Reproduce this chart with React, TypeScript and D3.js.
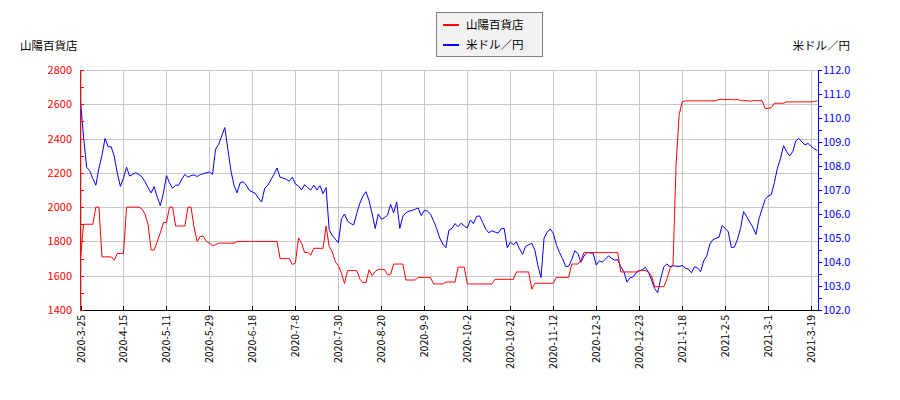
import React, { useEffect, useRef } from 'react';
import * as d3 from 'd3';

// x tick labels, one every 14 trading days
const tickLabels = [
  '2020-3-25', '2020-4-15', '2020-5-11', '2020-5-29', '2020-6-18', '2020-7-8',
  '2020-7-30', '2020-8-20', '2020-9-9', '2020-10-2', '2020-10-22', '2020-11-12',
  '2020-12-3', '2020-12-23', '2021-1-18', '2021-2-5', '2021-3-1', '2021-3-19',
];
const tickStep = 14;

// 山陽百貨店 closing price (yen), one value per trading day
const stockPrice = [
  1700, 1900, 1900, 1900, 1900, 2000, 2000, 1710, 1710, 1710,
  1710, 1690, 1730, 1730, 1730, 2000, 2000, 2000, 2000, 2000,
  1990, 1960, 1900, 1750, 1750, 1800, 1850, 1910, 1910, 2000,
  2000, 1890, 1890, 1890, 1890, 2000, 2000, 1880, 1800, 1830,
  1830, 1800, 1790, 1775, 1780, 1790, 1790, 1790, 1790, 1790,
  1790, 1800, 1800, 1800, 1800, 1800, 1800, 1800, 1800, 1800,
  1800, 1800, 1800, 1800, 1800, 1700, 1700, 1700, 1700, 1665,
  1675, 1820, 1790, 1735, 1735, 1720, 1760, 1760, 1760, 1760,
  1890, 1770, 1740, 1680, 1660, 1615, 1555, 1630, 1630, 1630,
  1630, 1580, 1560, 1560, 1635, 1600, 1625, 1637, 1637, 1637,
  1606, 1606, 1668, 1668, 1668, 1668, 1575, 1575, 1575, 1575,
  1590, 1590, 1590, 1590, 1590, 1552, 1552, 1552, 1552, 1563,
  1563, 1563, 1563, 1650, 1650, 1650, 1552, 1552, 1552, 1552,
  1552, 1552, 1552, 1552, 1552, 1579, 1579, 1579, 1579, 1579,
  1579, 1579, 1622, 1622, 1622, 1622, 1622, 1521, 1556, 1556,
  1556, 1556, 1556, 1556, 1556, 1590, 1590, 1590, 1590, 1590,
  1668, 1668, 1668, 1690, 1735, 1735, 1735, 1735, 1735, 1735,
  1735, 1735, 1735, 1735, 1735, 1735, 1622, 1622, 1622, 1622,
  1622, 1622, 1630, 1630, 1630, 1620, 1600, 1536, 1536, 1536,
  1536, 1580, 1640, 1662, 2250, 2540, 2615, 2620, 2620, 2620,
  2620, 2620, 2620, 2620, 2620, 2620, 2620, 2620, 2629, 2629,
  2627, 2629, 2629, 2625, 2629, 2621, 2621, 2621, 2618, 2621,
  2621, 2621, 2621, 2576, 2576, 2580, 2606, 2606, 2606, 2606,
  2614, 2614, 2614, 2614, 2614, 2614, 2614, 2614, 2614, 2616,
  2620,
];

// 米ドル／円 rate, one value per trading day
const usdJpy = [
  110.7, 109.2, 107.95, 107.8, 107.48, 107.2, 107.9, 108.45, 109.15, 108.8,
  108.8, 108.4, 107.7, 107.15, 107.5, 107.95, 107.58, 107.65, 107.72, 107.65,
  107.55, 107.35, 107.1, 106.88, 107.14, 106.7, 106.35, 106.86, 107.6, 107.3,
  107.07, 107.2, 107.2, 107.45, 107.65, 107.53, 107.6, 107.63, 107.56, 107.64,
  107.68, 107.72, 107.75, 107.65, 108.7, 108.9, 109.25, 109.6, 108.7, 107.8,
  107.2, 106.88, 107.3, 107.35, 107.2, 106.98, 106.92, 106.85, 106.65, 106.5,
  107.07, 107.2, 107.42, 107.65, 107.92, 107.53, 107.5, 107.45, 107.37, 107.53,
  107.25, 107.17, 107.0, 107.22, 107.1, 107.0, 107.2, 107.0, 107.18, 106.85,
  107.1, 105.35, 105.1, 104.95, 104.8, 105.8, 106.0, 105.7, 105.6, 105.55,
  106.03, 106.45, 106.75, 106.93, 106.55, 106.0, 105.4, 106.0, 105.78, 105.85,
  105.95, 106.4, 106.05, 106.5, 105.4, 105.9, 106.05, 106.12, 106.15, 106.2,
  106.25, 105.93, 106.15, 106.12, 106.0, 105.72, 105.4, 105.0, 104.75, 104.6,
  105.33, 105.4, 105.6, 105.47, 105.62, 105.5, 105.42, 105.75, 105.6, 105.9,
  105.92, 105.65, 105.37, 105.22, 105.3, 105.25, 105.2, 105.38, 105.4, 104.6,
  104.83, 104.72, 104.84, 104.55, 104.32, 104.65, 104.72, 104.78, 104.5, 103.85,
  103.35, 105.0, 105.24, 105.38, 105.2, 104.72, 104.4, 104.15, 103.82, 103.82,
  104.1, 104.47, 104.36, 103.99, 104.25, 104.39, 104.38, 104.36, 103.87, 104.05,
  104.0, 104.12, 104.26, 104.15, 104.08, 104.1, 103.8, 103.6, 103.16, 103.34,
  103.38, 103.55, 103.63, 103.68, 103.78, 103.58, 103.25, 102.9, 102.72, 103.3,
  103.8, 103.92, 103.8, 103.85, 103.82, 103.82, 103.85, 103.75, 103.7, 103.55,
  103.8, 103.75, 103.6, 104.05, 104.25, 104.75, 104.93, 104.99, 105.03, 105.52,
  105.4, 105.26, 104.6, 104.62, 104.95, 105.4, 106.1, 105.89, 105.67, 105.45,
  105.15, 105.8, 106.2, 106.6, 106.75, 106.8, 107.3, 107.9, 108.3, 108.85,
  108.6, 108.42, 108.6, 109.05, 109.15, 109.0, 108.88, 108.94, 108.82, 108.72,
  108.64,
];

const leftTicks = [1400, 1600, 1800, 2000, 2200, 2400, 2600, 2800];
const rightTicks = [102, 103, 104, 105, 106, 107, 108, 109, 110, 111, 112];

const FONT = '"Noto Sans CJK JP", "DejaVu Sans", sans-serif';

const App: React.FC = () => {
  const svgRef = useRef<SVGSVGElement>(null);

  useEffect(() => {
    if (!svgRef.current) return;
    const svg = d3.select(svgRef.current);
    svg.selectAll('*').remove();

    const left = 80, right = 818, top = 70, bottom = 310;

    const x = d3.scaleLinear().domain([0, stockPrice.length - 1]).range([left + 0.5, right - 0.7]);
    const yL = d3.scaleLinear().domain([1400, 2800]).range([bottom, top]);
    const yR = d3.scaleLinear().domain([102, 112]).range([bottom, top]);

    const tickIdx = tickLabels.map((_, i) => i * tickStep);

    // grid
    const grid = svg.append('g').attr('stroke', '#c8c8c8').attr('stroke-width', 1);
    grid.selectAll('line.h')
      .data(leftTicks)
      .join('line')
      .attr('x1', left).attr('x2', right)
      .attr('y1', d => Math.round(yL(d)) + 0.5).attr('y2', d => Math.round(yL(d)) + 0.5);
    grid.selectAll('line.v')
      .data(tickIdx)
      .join('line')
      .attr('x1', d => Math.round(x(d)) + 0.5).attr('x2', d => Math.round(x(d)) + 0.5)
      .attr('y1', top).attr('y2', bottom);

    // series
    const lineL = d3.line<number>().x((_, i) => x(i)).y(d => yL(d));
    const lineR = d3.line<number>().x((_, i) => x(i)).y(d => yR(d));
    svg.append('path').datum(usdJpy)
      .attr('d', lineR).attr('fill', 'none').attr('stroke', '#0000ff').attr('stroke-width', 1);
    svg.append('path').datum(stockPrice)
      .attr('d', lineL).attr('fill', 'none').attr('stroke', '#ff0000').attr('stroke-width', 1);

    // bottom axis
    const xAxis = svg.append('g');
    xAxis.append('line')
      .attr('x1', left).attr('x2', right + 1)
      .attr('y1', bottom + 0.5).attr('y2', bottom + 0.5)
      .attr('stroke', '#000');
    xAxis.selectAll('line.t')
      .data(tickIdx)
      .join('line')
      .attr('x1', d => Math.round(x(d)) + 0.5).attr('x2', d => Math.round(x(d)) + 0.5)
      .attr('y1', bottom - 4).attr('y2', bottom)
      .attr('stroke', '#000');
    xAxis.selectAll('text')
      .data(tickLabels)
      .join('text')
      .attr('transform', (_, i) => `translate(${Math.round(x(tickIdx[i])) + 4},${bottom + 5}) rotate(-90)`)
      .attr('text-anchor', 'end')
      .attr('font-family', FONT)
      .attr('font-size', 10.5)
      .attr('fill', '#000')
      .text(d => d);

    // left axis
    const yAxisL = svg.append('g');
    yAxisL.append('line')
      .attr('x1', left + 0.5).attr('x2', left + 0.5)
      .attr('y1', top).attr('y2', bottom + 1)
      .attr('stroke', '#ff0000');
    yAxisL.selectAll('line.t')
      .data(d3.range(1400, 2801, 100))
      .join('line')
      .attr('x1', left).attr('x2', left + 4)
      .attr('y1', d => Math.round(yL(d)) + 0.5).attr('y2', d => Math.round(yL(d)) + 0.5)
      .attr('stroke', '#ff0000');
    yAxisL.selectAll('text')
      .data(leftTicks)
      .join('text')
      .attr('x', left - 8).attr('y', d => yL(d) + 4)
      .attr('text-anchor', 'end')
      .attr('font-family', FONT).attr('font-size', 11)
      .attr('fill', '#ff0000')
      .text(d => d);

    // right axis
    const yAxisR = svg.append('g');
    yAxisR.append('line')
      .attr('x1', right + 0.5).attr('x2', right + 0.5)
      .attr('y1', top).attr('y2', bottom + 1)
      .attr('stroke', '#0000ff');
    yAxisR.selectAll('line.t')
      .data(d3.range(102, 112.01, 0.5))
      .join('line')
      .attr('x1', right).attr('x2', right + 4)
      .attr('y1', d => Math.round(yR(d)) + 0.5).attr('y2', d => Math.round(yR(d)) + 0.5)
      .attr('stroke', '#0000ff');
    yAxisR.selectAll('text')
      .data(rightTicks)
      .join('text')
      .attr('x', right + 5).attr('y', d => yR(d) + 4)
      .attr('text-anchor', 'start')
      .attr('font-family', FONT).attr('font-size', 11)
      .attr('fill', '#0000ff')
      .text(d => d.toFixed(1));

    // axis titles
    svg.append('text').attr('x', 20).attr('y', 50)
      .attr('font-family', FONT).attr('font-size', 11.5).attr('fill', '#000')
      .text('山陽百貨店');
    svg.append('text').attr('x', 850).attr('y', 50).attr('text-anchor', 'end')
      .attr('font-family', FONT).attr('font-size', 11.5).attr('fill', '#000')
      .text('米ドル／円');

    // legend
    const lg = svg.append('g');
    lg.append('rect')
      .attr('x', 436.5).attr('y', 12.5).attr('width', 106).attr('height', 44)
      .attr('fill', '#f2f2f2').attr('stroke', '#808080');
    const items = [
      { name: '山陽百貨店', color: '#ff0000' },
      { name: '米ドル／円', color: '#0000ff' },
    ];
    items.forEach((it, i) => {
      const cy = 25 + i * 20;
      lg.append('line')
        .attr('x1', 443).attr('x2', 459).attr('y1', cy).attr('y2', cy)
        .attr('stroke', it.color).attr('stroke-width', 2);
      lg.append('text')
        .attr('x', 466).attr('y', cy + 4)
        .attr('font-family', FONT).attr('font-size', 11.5).attr('fill', '#000')
        .text(it.name);
    });
  }, []);

  return (
    <div style={{ position: 'absolute', left: 0, top: 0 }}>
      <svg ref={svgRef} width={900} height={400} style={{ display: 'block', background: '#fff' }} />
    </div>
  );
};

export default App;
